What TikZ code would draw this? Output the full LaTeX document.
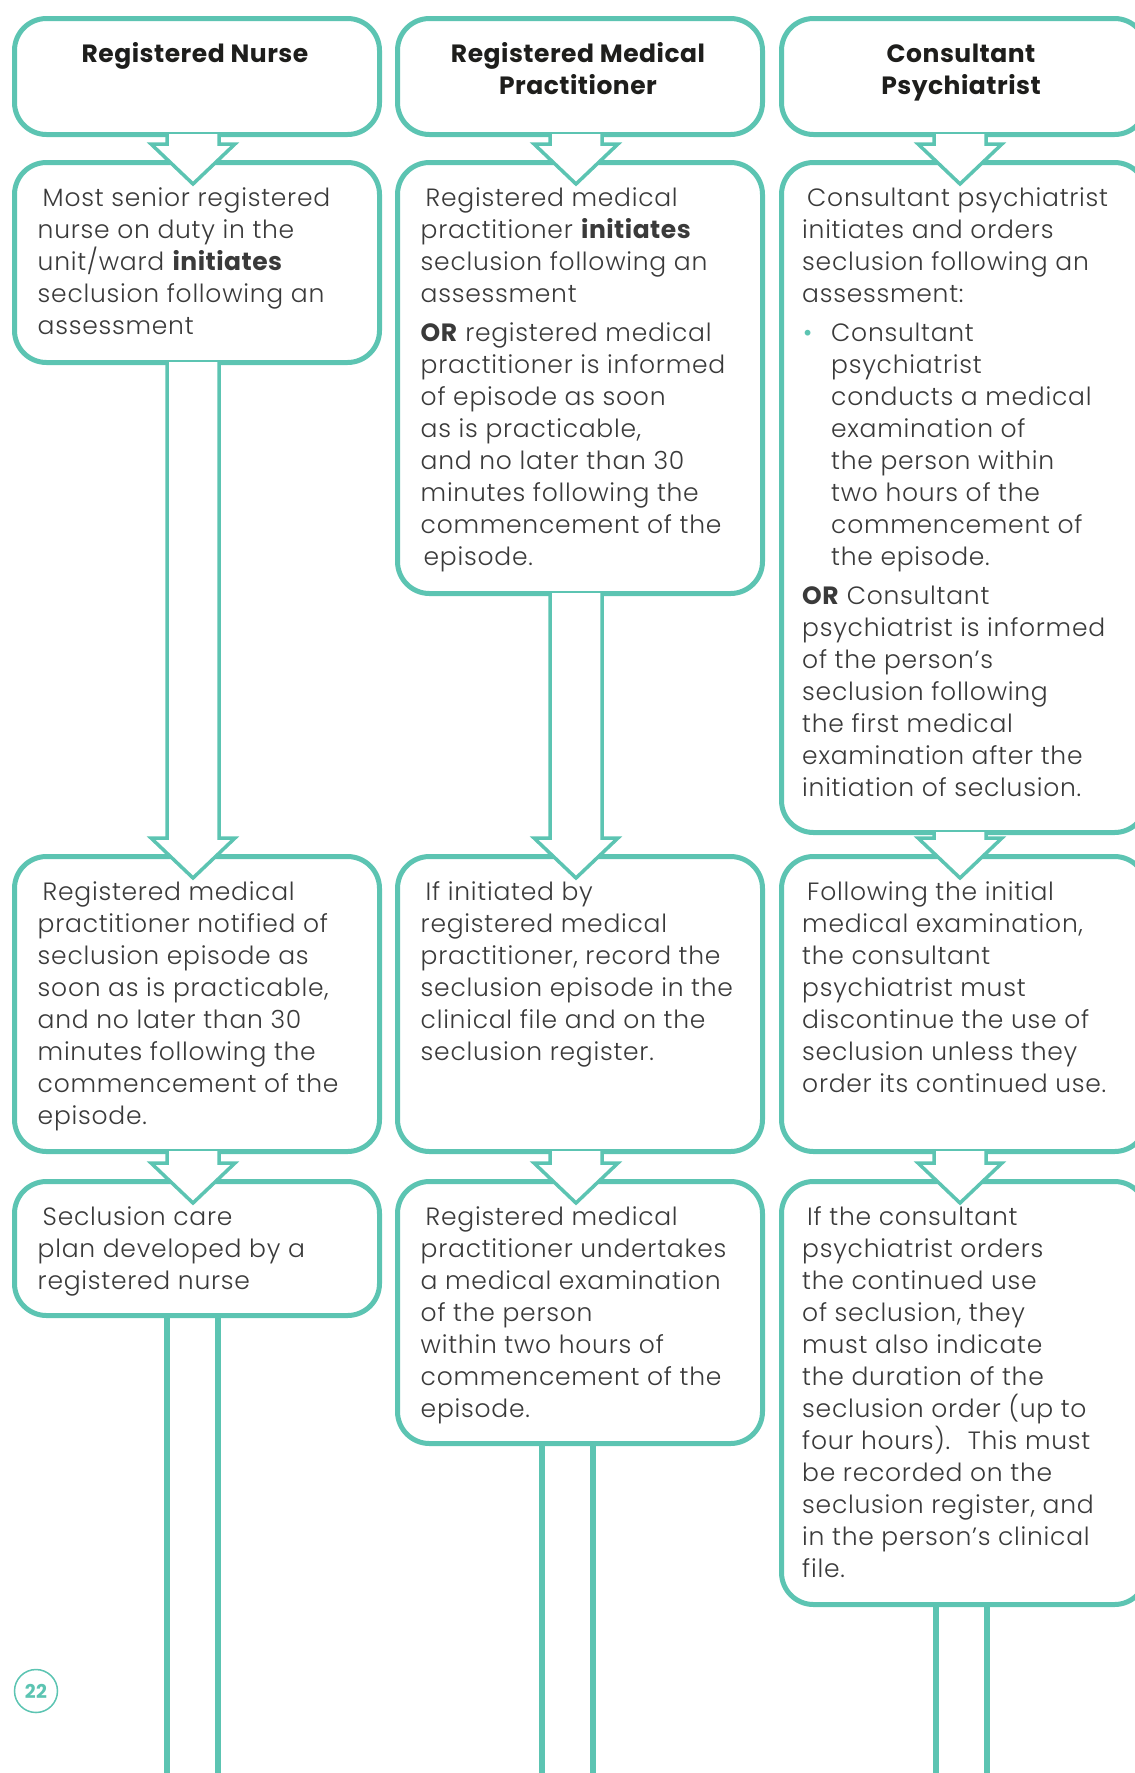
\documentclass[tikz,border=0pt]{standalone}
\usepackage{fontspec}
\IfFontExistsTF{Poppins Light}{\setmainfont{Poppins Light}[BoldFont={Poppins Bold}, LetterSpace=3, BoldFeatures={LetterSpace=2}]}{\setmainfont{Poppins}[LetterSpace=3]}
\usetikzlibrary{positioning}
\definecolor{SeclTeal}{RGB}{92,196,178}
\definecolor{BodyGrey}{RGB}{58,58,58}
\definecolor{HeadBlack}{RGB}{30,30,28}

\begin{document}
\begin{tikzpicture}[
    x=1pt, y=-1pt,
    every node/.style={font=\fontsize{25}{32}\selectfont, text=BodyGrey},
    flowbox/.style={draw=SeclTeal, line width=5pt, rounded corners=32pt, fill=white, minimum width=365pt, inner sep=0pt, anchor=north west},
    headtext/.style={anchor=north, align=center, inner sep=0pt, font=\bfseries\fontsize{25}{32}\selectfont, text=HeadBlack},
    bodytext/.style={anchor=north west, align=left, inner sep=0pt},
    flowarrow/.style={draw=SeclTeal, line width=3.5pt, fill=white},
    exitline/.style={draw=SeclTeal, line width=6pt}
  ]
  \useasboundingbox (0,0) rectangle (1135,1773);
  \coordinate (pageBottom) at (0,1785);

  % registered nurse column
  \node[flowbox, minimum height=116pt] (rnHead) at (12,16) {};
  \node[flowbox, minimum height=200pt] (rnInit) at (12,160) {};
  \node[flowbox, minimum height=295pt] (rnNotify) at (12,854) {};
  \node[flowbox, minimum height=134pt] (rnPlan) at (12,1179) {};

  % registered medical practitioner column
  \node[flowbox, minimum height=116pt] (rmpHead) at (395,16) {};
  \node[flowbox, minimum height=431pt] (rmpInit) at (395,160) {};
  \node[flowbox, minimum height=295pt] (rmpRecord) at (395,854) {};
  \node[flowbox, minimum height=262pt] (rmpExam) at (395,1179) {};

  % consultant psychiatrist column
  \node[flowbox, minimum height=116pt] (cpHead) at (779,16) {};
  \node[flowbox, minimum height=670pt] (cpInit) at (779,160) {};
  \node[flowbox, minimum height=295pt] (cpReview) at (779,854) {};
  \node[flowbox, minimum height=423pt] (cpOrder) at (779,1179) {};

  % arrows between boxes
  \foreach \src/\dst in {rnHead/rnInit, rnInit/rnNotify, rnNotify/rnPlan,
                         rmpHead/rmpInit, rmpInit/rmpRecord, rmpRecord/rmpExam,
                         cpHead/cpInit, cpInit/cpReview, cpReview/cpOrder}{
    \coordinate (stem) at ([xshift=-4pt]\src.south);
    \coordinate (tip) at (stem |- \dst.north);
    \draw[flowarrow] ([xshift=-26pt,yshift=3pt]stem) -- ([xshift=-26pt,yshift=16pt]tip)
      -- ([xshift=-42pt,yshift=16pt]tip) -- ([yshift=-24pt]tip)
      -- ([xshift=42pt,yshift=16pt]tip) -- ([xshift=26pt,yshift=16pt]tip)
      -- ([xshift=26pt,yshift=3pt]stem);
  }

  % stems running off the page
  \foreach \src/\dx in {rnPlan/-4.5, rmpExam/-13, cpOrder/-2.5}{
    \coordinate (stem) at ([xshift=\dx pt]\src.south);
    \draw[exitline] ([xshift=-25.5pt]stem) -- ([xshift=-25.5pt]stem |- pageBottom);
    \draw[exitline] ([xshift=25.5pt]stem) -- ([xshift=25.5pt]stem |- pageBottom);
  }

  % headings
  \node[headtext] (rnHeadTxt) at ([xshift=-2pt,yshift=-22pt]rnHead.north) {\rule{0pt}{24pt}Registered Nurse};
  \node[headtext] (rmpHeadTxt) at ([xshift=-2pt,yshift=-22pt]rmpHead.north) {\rule{0pt}{24pt}Registered Medical\\Practitioner};
  \node[headtext] (cpHeadTxt) at ([xshift=-3pt,yshift=-22pt]cpHead.north) {\rule{0pt}{24pt}Consultant\\Psychiatrist};

  % texts
  \node[bodytext] (rnInitTxt) at ([xshift=25.5pt,yshift=-22pt]rnInit.north west) {\rule{0pt}{24pt}\hspace*{5pt}Most senior registered\\nurse on duty in the\\unit/ward \textbf{initiates}\\seclusion following an\\assessment};
  \node[bodytext] (rnNotifyTxt) at ([xshift=25.5pt,yshift=-22pt]rnNotify.north west) {\rule{0pt}{24pt}\hspace*{5pt}Registered medical\\practitioner notified of\\seclusion episode as\\soon as is practicable,\\and no later than 30\\minutes following the\\commencement of the\\episode.};
  \node[bodytext] (rnPlanTxt) at ([xshift=25.5pt,yshift=-22pt]rnPlan.north west) {\rule{0pt}{24pt}\hspace*{5pt}Seclusion care\\plan developed by a\\registered nurse};

  \node[bodytext] (rmpInitTxt) at ([xshift=25.5pt,yshift=-22pt]rmpInit.north west) {\rule{0pt}{24pt}\hspace*{5pt}Registered medical\\practitioner \textbf{initiates}\\seclusion following an\\assessment\\[7pt]\textbf{OR} registered medical\\practitioner is informed\\of episode as soon\\as is practicable,\\and no later than 30\\minutes following the\\commencement of the\\\hspace*{3pt}episode.};
  \node[bodytext] (rmpRecordTxt) at ([xshift=25.5pt,yshift=-22pt]rmpRecord.north west) {\rule{0pt}{24pt}\hspace*{5pt}If initiated by\\registered medical\\practitioner, record the\\seclusion episode in the\\clinical file and on the\\seclusion register.};
  \node[bodytext] (rmpExamTxt) at ([xshift=25.5pt,yshift=-22pt]rmpExam.north west) {\rule{0pt}{24pt}\hspace*{5pt}Registered medical\\practitioner undertakes\\a medical examination\\of the person\\within two hours of\\commencement of the\\episode.};

  \node[bodytext] (cpInitTxt) at ([xshift=23pt,yshift=-22pt]cpInit.north west) {\rule{0pt}{24pt}\hspace*{5pt}Consultant psychiatrist\\initiates and orders\\seclusion following an\\assessment:\\[7pt]\makebox[29pt][l]{\hspace*{1pt}\textcolor{SeclTeal}{\textbullet}}Consultant\\\hspace*{29pt}psychiatrist\\\hspace*{29pt}conducts a medical\\\hspace*{29pt}examination of\\\hspace*{29pt}the person within\\\hspace*{29pt}two hours of the\\\hspace*{29pt}commencement of\\\hspace*{29pt}the episode.\\[7pt]\textbf{OR} Consultant\\psychiatrist is informed\\of the person’s\\seclusion following\\the first medical\\examination after the\\initiation of seclusion.};
  \node[bodytext] (cpReviewTxt) at ([xshift=23pt,yshift=-22pt]cpReview.north west) {\rule{0pt}{24pt}\hspace*{5pt}Following the initial\\medical examination,\\the consultant\\psychiatrist must\\discontinue the use of\\seclusion unless they\\order its continued use.};
  \node[bodytext] (cpOrderTxt) at ([xshift=23pt,yshift=-22pt]cpOrder.north west) {\rule{0pt}{24pt}\hspace*{5pt}If the consultant\\psychiatrist orders\\the continued use\\of seclusion, they\\must also indicate\\the duration of the\\seclusion order (up to\\four hours).~ This must\\be recorded on the\\seclusion register, and\\in the person’s clinical\\file.};

  % page number
  \node[circle, draw=SeclTeal, line width=1.5pt, minimum size=43pt, inner sep=0pt, text=SeclTeal, font=\bfseries\fontsize{19}{19}\selectfont] (pageNo) at (36,1691) {22};
\end{tikzpicture}
\end{document}
